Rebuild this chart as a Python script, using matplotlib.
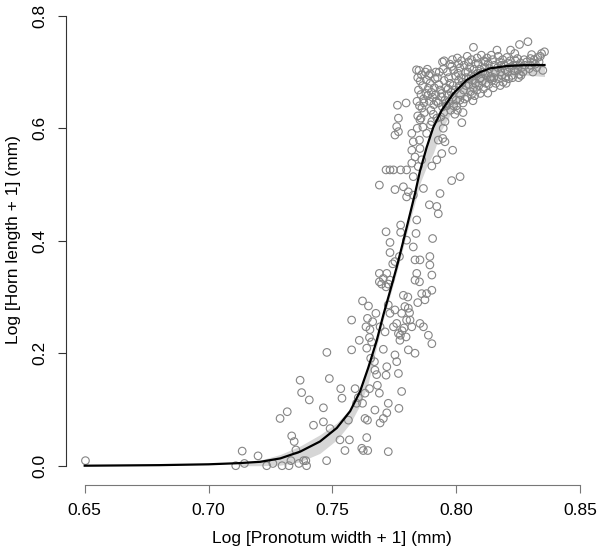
import matplotlib
matplotlib.use("Agg")
import matplotlib.pyplot as plt

plt.rcParams['font.family'] = ['Liberation Sans', 'DejaVu Sans']

# ---- fitted curve ----
curve_x = [0.650, 0.680, 0.700, 0.712, 0.721, 0.729, 0.737, 0.745, 0.7518, 0.7572,
           0.7612, 0.7645, 0.7679, 0.7706, 0.7733, 0.7760, 0.7787, 0.7814, 0.7834,
           0.7854, 0.7881, 0.7908, 0.7942, 0.7989, 0.8043, 0.8097, 0.8137, 0.8204,
           0.8271, 0.8357]
curve_y = [0.000, 0.001, 0.0025, 0.0045, 0.007, 0.013, 0.025, 0.043, 0.067, 0.097,
           0.132, 0.174, 0.222, 0.268, 0.310, 0.353, 0.400, 0.448, 0.484,
           0.524, 0.566, 0.602, 0.632, 0.662, 0.686, 0.700, 0.7066, 0.7107,
           0.7122, 0.7125]

# ---- confidence band ----
band_x = [0.712, 0.721, 0.729, 0.737, 0.745, 0.7518, 0.7572, 0.7612, 0.7645, 0.7679,
          0.7706, 0.7733, 0.7760, 0.7787, 0.7814, 0.7834, 0.7854, 0.7881, 0.7908,
          0.7942, 0.7989, 0.8043, 0.8097, 0.8137, 0.8204, 0.8271, 0.8357]
band_lo = [0.000, 0.000, 0.001, 0.007, 0.022, 0.046, 0.075, 0.108, 0.147, 0.212,
           0.260, 0.302, 0.344, 0.390, 0.436, 0.468, 0.502, 0.532, 0.556,
           0.598, 0.634, 0.660, 0.674, 0.683, 0.692, 0.695, 0.692]
band_hi = [0.006, 0.010, 0.020, 0.035, 0.055, 0.076, 0.101, 0.134, 0.176, 0.224,
           0.270, 0.312, 0.355, 0.402, 0.450, 0.486, 0.526, 0.568, 0.604,
           0.634, 0.664, 0.688, 0.702, 0.708, 0.712, 0.714, 0.714]

# ---- observations: pronotum width (x) and horn length (y) ----
pts_low = [
    (0.6503, 0.009), (0.711, 0.000), (0.7136, 0.026), (0.7145, 0.004), (0.720, 0.0175),
    (0.7235, 0.000), (0.726, 0.004), (0.7297, 0.000), (0.7325, 0.000), (0.7333, 0.009),
    (0.7365, 0.004), (0.7384, 0.009), (0.7393, 0.009), (0.7396, 0.000), (0.7477, 0.009),
    (0.7289, 0.084), (0.7318, 0.096), (0.7336, 0.053), (0.7346, 0.043), (0.7353, 0.028),
    (0.7370, 0.152), (0.7376, 0.130), (0.7407, 0.117), (0.7424, 0.072), (0.7464, 0.103),
    (0.7464, 0.078), (0.7478, 0.2015), (0.7488, 0.155), (0.7491, 0.066), (0.7534, 0.137),
    (0.7539, 0.120), (0.7531, 0.046), (0.7551, 0.027), (0.7569, 0.046), (0.7565, 0.081),
    (0.7578, 0.206), (0.7578, 0.259), (0.7592, 0.137), (0.7598, 0.111), (0.7605, 0.121),
    (0.7609, 0.223), (0.7619, 0.031), (0.7625, 0.027), (0.7622, 0.111), (0.7622, 0.293),
    (0.7632, 0.129), (0.7632, 0.084), (0.7636, 0.247), (0.7639, 0.050), (0.7639, 0.209),
    (0.7642, 0.262), (0.7642, 0.081), (0.7643, 0.027), (0.7646, 0.284), (0.7650, 0.228),
    (0.7650, 0.137), (0.7652, 0.242), (0.7655, 0.191), (0.7659, 0.220), (0.7663, 0.256),
    (0.7670, 0.185), (0.7672, 0.170), (0.7672, 0.099), (0.7676, 0.271), (0.7679, 0.162),
    (0.7682, 0.143), (0.7690, 0.129), (0.7693, 0.247), (0.7693, 0.076), (0.7706, 0.084),
    (0.7706, 0.207), (0.7713, 0.238), (0.7717, 0.161), (0.7720, 0.176), (0.7720, 0.094),
    (0.7726, 0.111), (0.7726, 0.025), (0.7733, 0.271), (0.7717, 0.416), (0.7720, 0.342),
    (0.7726, 0.286), (0.7733, 0.397), (0.7733, 0.379), (0.7690, 0.342), (0.7690, 0.327),
    (0.7699, 0.323), (0.7706, 0.333), (0.7717, 0.318), (0.7726, 0.323), (0.7733, 0.330),
    (0.7744, 0.359), (0.7753, 0.363), (0.7776, 0.428), (0.7776, 0.415), (0.7771, 0.372),
    (0.7780, 0.271), (0.7787, 0.303), (0.7793, 0.283), (0.7800, 0.259), (0.7753, 0.277),
    (0.7760, 0.253), (0.7767, 0.235), (0.7773, 0.223), (0.7747, 0.247), (0.7753, 0.197),
    (0.7760, 0.185), (0.7767, 0.164), (0.7769, 0.102), (0.7780, 0.132), (0.7798, 0.229),
    (0.7807, 0.206), (0.7814, 0.259), (0.7807, 0.280), (0.7821, 0.247), (0.7827, 0.389),
    (0.7834, 0.366), (0.7841, 0.342), (0.7834, 0.330), (0.7854, 0.366), (0.7852, 0.327),
    (0.7861, 0.306), (0.7874, 0.295), (0.7881, 0.306), (0.7902, 0.312), (0.7854, 0.253),
    (0.7868, 0.247), (0.7888, 0.232), (0.7902, 0.217), (0.7834, 0.200), (0.7800, 0.401),
    (0.7838, 0.413), (0.7800, 0.478), (0.7807, 0.487), (0.7827, 0.481), (0.7841, 0.437),
    (0.7905, 0.404), (0.7894, 0.357), (0.7902, 0.339), (0.7894, 0.372), (0.7922, 0.461),
    (0.7928, 0.448), (0.7935, 0.484), (0.7892, 0.464), (0.7868, 0.493), (0.7753, 0.491),
    (0.7787, 0.496), (0.7690, 0.499), (0.7717, 0.526), (0.7733, 0.526), (0.7747, 0.526),
    (0.7776, 0.526), (0.7800, 0.526), (0.7821, 0.538), (0.7827, 0.514), (0.7847, 0.532),
    (0.7902, 0.533), (0.7922, 0.544), (0.7942, 0.555), (0.7955, 0.576), (0.7928, 0.579),
    (0.7986, 0.561), (0.7982, 0.507), (0.8016, 0.514), (0.8023, 0.610), (0.7760, 0.603),
    (0.7767, 0.594), (0.7753, 0.588), (0.7767, 0.618), (0.7763, 0.641), (0.7798, 0.645),
    (0.7821, 0.591), (0.7827, 0.576), (0.7834, 0.549), (0.7821, 0.561), (0.7854, 0.564),
    (0.7852, 0.579), (0.7861, 0.544), (0.7843, 0.600), (0.7854, 0.615), (0.7881, 0.591),
    (0.7897, 0.606), (0.7922, 0.618), (0.7946, 0.582), (0.7959, 0.644), (0.7845, 0.290),
    (0.7812, 0.272), (0.7805, 0.300), (0.7790, 0.245), (0.7775, 0.232), (0.7782, 0.240),
]

pts_high = [
    (0.7840, 0.704), (0.7850, 0.703), (0.7845, 0.690), (0.7855, 0.684), (0.7860, 0.695),
    (0.7865, 0.676), (0.7848, 0.668), (0.7858, 0.660), (0.7868, 0.652), (0.7842, 0.648),
    (0.7852, 0.640), (0.7862, 0.636), (0.7872, 0.628), (0.7845, 0.622), (0.7878, 0.662),
    (0.7880, 0.686), (0.7876, 0.700), (0.7870, 0.645), (0.7858, 0.618), (0.7866, 0.602),
    (0.7884, 0.705), (0.7890, 0.694), (0.7895, 0.680), (0.7888, 0.671), (0.7900, 0.664),
    (0.7905, 0.655), (0.7892, 0.648), (0.7910, 0.642), (0.7898, 0.632), (0.7908, 0.625),
    (0.7915, 0.688), (0.7912, 0.672), (0.7918, 0.660), (0.7902, 0.612), (0.7920, 0.648),
    (0.7885, 0.658), (0.7896, 0.697), (0.7918, 0.700), (0.7925, 0.690), (0.7930, 0.678),
    (0.7935, 0.668), (0.7940, 0.656), (0.7928, 0.645), (0.7945, 0.638), (0.7950, 0.628),
    (0.7938, 0.620), (0.7955, 0.612), (0.7932, 0.700), (0.7948, 0.705), (0.7952, 0.685),
    (0.7958, 0.672), (0.7942, 0.662), (0.7955, 0.650), (0.7960, 0.640), (0.7948, 0.600),
    (0.7945, 0.718), (0.7952, 0.720), (0.7965, 0.700), (0.7970, 0.690), (0.7975, 0.680),
    (0.7968, 0.670), (0.7980, 0.664), (0.7985, 0.655), (0.7972, 0.648), (0.7990, 0.640),
    (0.7978, 0.632), (0.7995, 0.625), (0.7982, 0.710), (0.7990, 0.703), (0.7998, 0.693),
    (0.7988, 0.676), (0.7996, 0.668), (0.7965, 0.660), (0.8000, 0.650), (0.7975, 0.714),
    (0.7985, 0.722), (0.7962, 0.640), (0.8005, 0.725), (0.8010, 0.715), (0.8015, 0.707),
    (0.8008, 0.698), (0.8020, 0.690), (0.8025, 0.682), (0.8012, 0.675), (0.8030, 0.668),
    (0.8018, 0.660), (0.8035, 0.652), (0.8028, 0.645), (0.8002, 0.640), (0.8038, 0.700),
    (0.8032, 0.712), (0.8022, 0.720), (0.8040, 0.690), (0.8040, 0.676), (0.8005, 0.632),
    (0.8028, 0.628), (0.8015, 0.650), (0.8010, 0.685), (0.8045, 0.728), (0.8050, 0.718),
    (0.8055, 0.708), (0.8048, 0.700), (0.8060, 0.693), (0.8065, 0.686), (0.8052, 0.678),
    (0.8070, 0.672), (0.8058, 0.665), (0.8075, 0.658), (0.8068, 0.649), (0.8045, 0.655),
    (0.8078, 0.715), (0.8072, 0.705), (0.8062, 0.722), (0.8080, 0.696), (0.8078, 0.680),
    (0.8070, 0.744), (0.8050, 0.688), (0.8062, 0.660), (0.8085, 0.725), (0.8090, 0.715),
    (0.8095, 0.705), (0.8088, 0.698), (0.8100, 0.690), (0.8105, 0.684), (0.8092, 0.676),
    (0.8110, 0.670), (0.8098, 0.662), (0.8115, 0.708), (0.8112, 0.720), (0.8102, 0.730),
    (0.8118, 0.696), (0.8108, 0.700), (0.8120, 0.680), (0.8095, 0.688), (0.8085, 0.668),
    (0.8118, 0.718), (0.8125, 0.725), (0.8130, 0.715), (0.8135, 0.706), (0.8128, 0.698),
    (0.8140, 0.692), (0.8145, 0.685), (0.8132, 0.678), (0.8150, 0.672), (0.8128, 0.6625),
    (0.8155, 0.712), (0.8148, 0.722), (0.8142, 0.730), (0.8158, 0.700), (0.8138, 0.688),
    (0.8152, 0.690), (0.8160, 0.680), (0.8165, 0.739), (0.8170, 0.728), (0.8175, 0.718),
    (0.8168, 0.708), (0.8180, 0.700), (0.8185, 0.694), (0.8172, 0.688), (0.8190, 0.682),
    (0.8178, 0.676), (0.8195, 0.712), (0.8188, 0.722), (0.8198, 0.704), (0.8182, 0.712),
    (0.8200, 0.690), (0.8202, 0.680), (0.8205, 0.726), (0.8210, 0.716), (0.8215, 0.708),
    (0.8208, 0.700), (0.8220, 0.739), (0.8225, 0.694), (0.8212, 0.688), (0.8230, 0.712),
    (0.8218, 0.720), (0.8235, 0.702), (0.8237, 0.733), (0.8228, 0.690), (0.8240, 0.720),
    (0.8245, 0.712), (0.8250, 0.704), (0.8255, 0.696), (0.8248, 0.724), (0.8256, 0.749),
    (0.8260, 0.716), (0.8265, 0.708), (0.8252, 0.690), (0.8270, 0.700), (0.8275, 0.722),
    (0.8262, 0.694), (0.8278, 0.712), (0.8285, 0.718), (0.8290, 0.754), (0.8295, 0.706),
    (0.8300, 0.712), (0.8305, 0.731), (0.8310, 0.700), (0.8315, 0.722), (0.8320, 0.714),
    (0.8325, 0.708), (0.8330, 0.726), (0.8335, 0.718), (0.8340, 0.728), (0.8345, 0.733),
    (0.8350, 0.703), (0.8357, 0.736), (0.8300, 0.724), (0.8312, 0.716),
]

x_ticks = [0.65, 0.70, 0.75, 0.80, 0.85]
y_ticks = [0.0, 0.2, 0.4, 0.6, 0.8]
x_label = "Log [Pronotum width + 1] (mm)"
y_label = "Log [Horn length + 1] (mm)"

fig = plt.figure(figsize=(6.0, 5.51), dpi=100)
ax = fig.add_axes([0.1, 0.1107, 0.8917, 0.8802])
ax.set_xlim(0.64002, 0.8561)
ax.set_ylim(-0.0432, 0.8192)

ax.fill_between(band_x, band_lo, band_hi, color='#d6d6d6', linewidth=0, zorder=1)

pts = pts_low + pts_high
xs = [p[0] for p in pts]
ys = [p[1] for p in pts]
ax.scatter(xs, ys, s=30, facecolors='none', edgecolors='#858585', linewidths=0.8, zorder=2)

ax.plot(curve_x, curve_y, color='black', linewidth=1.6, zorder=3)

for s in ['top', 'right']:
    ax.spines[s].set_visible(False)
ax.spines['left'].set_position(('data', 0.6426))
ax.spines['left'].set_bounds(0.0, 0.8)
ax.spines['bottom'].set_position(('data', -0.0343))
ax.spines['bottom'].set_bounds(0.65, 0.85)
ax.spines['left'].set_color('#333333')
ax.spines['bottom'].set_color('#777777')
ax.spines['left'].set_linewidth(0.8)
ax.spines['bottom'].set_linewidth(0.8)

ax.set_xticks(x_ticks)
ax.set_xticklabels(["%.2f" % v for v in x_ticks])
ax.set_yticks(y_ticks)
ax.set_yticklabels(["%.1f" % v for v in y_ticks], rotation=90, va='center')
ax.tick_params(axis='x', length=6, width=0.8, color='#777777', labelsize=12.5, pad=7)
ax.tick_params(axis='y', length=6, width=0.8, color='#333333', labelsize=12.5, pad=8)

fig.text(0.5 * (84.7 + 580) / 600, 1 - 538 / 551, x_label, ha='center', va='center', fontsize=12.5)
fig.text(14 / 600, 1 - 240 / 551, y_label, ha='center', va='center', rotation=90, fontsize=12.5)

fig.savefig("out.png", dpi=100)
